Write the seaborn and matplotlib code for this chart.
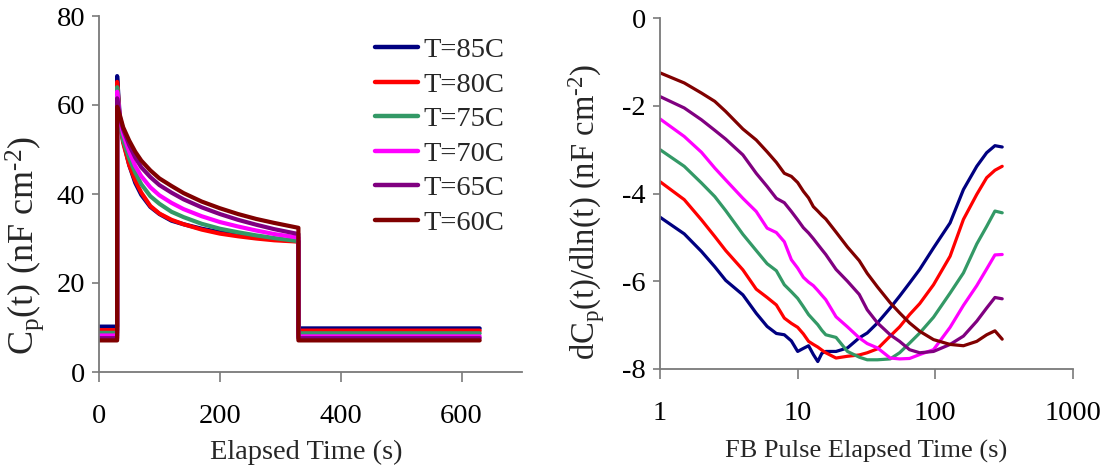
import matplotlib
matplotlib.use("Agg")
import matplotlib.pyplot as plt
from matplotlib.lines import Line2D
from matplotlib.ticker import FixedLocator, FixedFormatter, NullLocator
import pandas as pd
import seaborn as sns

# ---------------------------------------------------------------- data
TEMPS = ["T=85C", "T=80C", "T=75C", "T=70C", "T=65C", "T=60C"]
COLORS = ["#000080", "#FF0000", "#339966", "#FF00FF", "#800080", "#800000"]

# Capacitance transient: fill pulse applied at 30 s, removed at 330 s
PULSE_ON = 30
PULSE_OFF = 330
RUN_END = 630
BASE_BEFORE = [10.2, 9.4, 8.8, 8.2, 7.6, 7.1]
BASE_AFTER = [9.8, 9.3, 8.7, 8.0, 7.6, 7.1]

DECAY_T = [30, 35, 40, 50, 60, 70, 85, 100, 120, 140, 170, 200, 230, 260, 290, 330]
CP_85 = [66.5, 56.0, 52.0, 46.5, 42.5, 39.8, 37.1, 35.5, 34.0, 33.2, 32.2, 31.4, 30.8, 30.3, 29.8, 29.4]
CP_80 = [65.2, 55.5, 51.5, 46.5, 43.0, 40.3, 37.3, 35.6, 34.2, 33.2, 32.0, 31.1, 30.5, 30.0, 29.6, 29.3]
CP_75 = [64.0, 55.5, 52.0, 48.0, 44.8, 42.2, 39.5, 37.8, 36.0, 34.8, 33.3, 32.2, 31.4, 30.7, 30.1, 29.4]
CP_70 = [63.0, 56.5, 53.5, 49.5, 46.3, 44.0, 41.5, 39.7, 38.0, 36.6, 35.0, 33.7, 32.7, 31.8, 31.0, 30.2]
CP_65 = [61.5, 57.0, 54.5, 51.0, 48.2, 46.0, 43.8, 42.0, 40.3, 38.8, 37.0, 35.5, 34.2, 33.1, 32.1, 31.0]
CP_60 = [59.6, 57.5, 55.0, 52.0, 49.5, 47.5, 45.3, 43.5, 41.8, 40.2, 38.3, 36.8, 35.5, 34.4, 33.5, 32.4]
CP_DECAY = [CP_85, CP_80, CP_75, CP_70, CP_65, CP_60]

# Log-time derivative of the transient after the fill-bias pulse
FB_T = [1, 1.5, 2, 2.5, 3, 4, 5, 6, 7, 8, 9, 10, 11, 12, 13, 14, 15, 16, 19, 23,
        28, 32, 38, 47, 55, 65, 77, 97, 128, 160, 200, 236, 271, 306]
DCP_85 = [-4.54, -4.92, -5.32, -5.67, -5.98, -6.31, -6.73, -7.03, -7.19, -7.22,
          -7.36, -7.60, -7.53, -7.47, -7.67, -7.83, -7.64, -7.60, -7.60, -7.52,
          -7.29, -7.18, -6.95, -6.61, -6.34, -6.04, -5.73, -5.24, -4.67, -3.91,
          -3.38, -3.07, -2.91, -2.94]
DCP_80 = [-3.73, -4.14, -4.60, -4.98, -5.30, -5.74, -6.18, -6.37, -6.54, -6.84,
          -6.96, -7.05, -7.20, -7.37, -7.44, -7.50, -7.57, -7.63, -7.75, -7.71,
          -7.68, -7.63, -7.54, -7.25, -7.04, -6.76, -6.51, -6.08, -5.43, -4.59,
          -4.02, -3.64, -3.47, -3.38]
DCP_75 = [-3.00, -3.38, -3.76, -4.07, -4.39, -4.93, -5.30, -5.60, -5.76, -6.08,
          -6.24, -6.39, -6.58, -6.76, -6.88, -6.99, -7.12, -7.22, -7.28, -7.60,
          -7.73, -7.79, -7.79, -7.77, -7.63, -7.41, -7.18, -6.82, -6.27, -5.81,
          -5.15, -4.75, -4.40, -4.44]
DCP_70 = [-2.30, -2.70, -3.06, -3.42, -3.69, -4.11, -4.41, -4.79, -4.89, -5.10,
          -5.51, -5.70, -5.91, -6.02, -6.10, -6.21, -6.32, -6.42, -6.81, -7.04,
          -7.29, -7.42, -7.52, -7.75, -7.77, -7.76, -7.67, -7.56, -7.05, -6.55,
          -6.10, -5.72, -5.40, -5.39]
DCP_65 = [-1.79, -2.05, -2.32, -2.56, -2.76, -3.12, -3.54, -3.84, -4.11, -4.21,
          -4.41, -4.60, -4.78, -4.90, -5.03, -5.16, -5.28, -5.39, -5.73, -6.00,
          -6.30, -6.65, -6.95, -7.22, -7.37, -7.56, -7.63, -7.60, -7.44, -7.25,
          -6.91, -6.61, -6.37, -6.40]
DCP_60 = [-1.25, -1.48, -1.71, -1.90, -2.13, -2.53, -2.78, -3.05, -3.29, -3.54,
          -3.61, -3.75, -3.95, -4.10, -4.30, -4.40, -4.50, -4.58, -4.88, -5.22,
          -5.53, -5.82, -6.13, -6.49, -6.72, -6.95, -7.14, -7.33, -7.44, -7.47,
          -7.37, -7.22, -7.13, -7.32]
DCP_ALL = [DCP_85, DCP_80, DCP_75, DCP_70, DCP_65, DCP_60]

LEFT_XTICKS = [0, 200, 400, 600]
LEFT_YTICKS = [0, 20, 40, 60, 80]
RIGHT_XTICKS = [1, 10, 100, 1000]
RIGHT_XLABELS = ["1", "10", "100", "1000"]
RIGHT_YTICKS = [-8, -6, -4, -2, 0]

# ---------------------------------------------------------------- tables
left_rows = []
for name, b0, cp, b1 in zip(TEMPS, BASE_BEFORE, CP_DECAY, BASE_AFTER):
    ts = [0, PULSE_ON] + DECAY_T + [PULSE_OFF, RUN_END]
    vs = [b0, b0] + cp + [b1, b1]
    left_rows += [{"series": name, "t": t, "cp": v} for t, v in zip(ts, vs)]
left_df = pd.DataFrame(left_rows)

right_rows = []
for name, dcp in zip(TEMPS, DCP_ALL):
    right_rows += [{"series": name, "t": t, "dcp": v} for t, v in zip(FB_T, dcp)]
right_df = pd.DataFrame(right_rows)

# ---------------------------------------------------------------- style
sns.set_theme(style="ticks")
plt.rcParams.update({
    "font.family": ["Liberation Serif", "DejaVu Serif"],
    "font.size": 20.5,
    "axes.unicode_minus": False,
    "mathtext.fontset": "custom",
    "mathtext.rm": "Liberation Serif",
    "mathtext.it": "Liberation Serif:italic",
    "mathtext.bf": "Liberation Serif:bold",
})
AXIS_GREY = "#7a7a7a"

fig = plt.figure(figsize=(11.12, 4.76), dpi=100)
ax1 = fig.add_axes([99 / 1112, 104 / 476, 423 / 1112, 356 / 476])
ax2 = fig.add_axes([660 / 1112, 107 / 476, 413 / 1112, 351 / 476])

sns.lineplot(data=left_df, x="t", y="cp", hue="series", hue_order=TEMPS,
             palette=COLORS, estimator=None, sort=False, linewidth=3.0,
             legend=False, ax=ax1)
sns.lineplot(data=right_df, x="t", y="dcp", hue="series", hue_order=TEMPS,
             palette=COLORS, estimator=None, sort=False, linewidth=2.3,
             legend=False, ax=ax2)

for ax in (ax1, ax2):
    ax.set_facecolor("white")
    for side in ("top", "right"):
        ax.spines[side].set_visible(False)
    for side in ("left", "bottom"):
        ax.spines[side].set_color(AXIS_GREY)
        ax.spines[side].set_linewidth(1.3)
    ax.tick_params(axis="x", direction="out", length=7, width=1.2,
                   color=AXIS_GREY, pad=16, labelsize=20.5, labelcolor="black")
    ax.tick_params(axis="y", direction="out", length=5, width=1.2,
                   color=AXIS_GREY, pad=5, labelsize=20.5, labelcolor="black")

ax1.set_xlim(0, 700)
ax1.set_ylim(0, 80)
ax1.set_xticks(LEFT_XTICKS)
ax1.set_yticks(LEFT_YTICKS)
ax1.set_xlabel("Elapsed Time (s)", fontsize=20.5)
ax1.set_ylabel(r"C$_{\mathrm{p}}$(t) (nF cm$^{\text{-2}}$)", fontsize=26)
ax1.yaxis.set_label_coords(-0.125, 0.355)
ax1.xaxis.set_label_coords(0.49, -0.19)

ax2.set_xscale("log")
ax2.set_xlim(1, 1000)
ax2.set_ylim(-8, 0)
ax2.xaxis.set_major_locator(FixedLocator(RIGHT_XTICKS))
ax2.xaxis.set_major_formatter(FixedFormatter(RIGHT_XLABELS))
ax2.xaxis.set_minor_locator(NullLocator())
ax2.set_yticks(RIGHT_YTICKS)
ax2.set_xlabel("FB Pulse Elapsed Time (s)", fontsize=19)
ax2.set_ylabel(r"dC$_{\mathrm{p}}$(t)/dln(t) (nF cm$^{\text{-2}}$)", fontsize=23.5)
ax2.yaxis.set_label_coords(-0.129, 0.447)
ax2.xaxis.set_label_coords(0.5, -0.203)

handles = [Line2D([], [], color=c, linewidth=3.2) for c in COLORS]
ax1.legend(handles, TEMPS, loc="upper left", bbox_to_anchor=(0.652, 0.94),
           frameon=False, fontsize=20.5, handlelength=1.5, handletextpad=0.22,
           labelspacing=0.3, borderpad=0, borderaxespad=0)

fig.savefig("out.png", dpi=100, facecolor="white")
